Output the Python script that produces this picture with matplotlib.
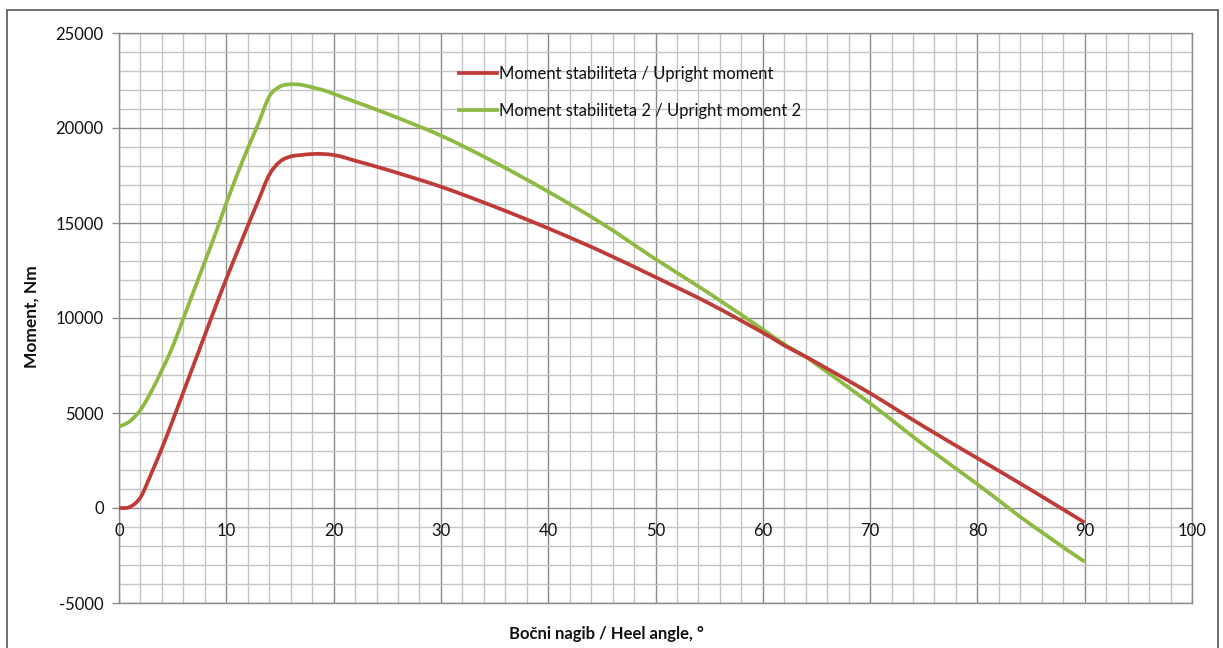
import matplotlib
matplotlib.use("Agg")
import matplotlib.pyplot as plt
from matplotlib.ticker import MultipleLocator
from matplotlib.patches import Rectangle, PathPatch
from matplotlib.path import Path
from matplotlib.lines import Line2D

plt.rcParams['font.family'] = ['Lato', 'DejaVu Sans']
plt.rcParams['axes.unicode_minus'] = False

# ---- data ----
angle_red = [0, 1, 2, 3, 4, 5, 6, 7, 8, 9, 10, 11, 12, 13, 14, 15, 16, 17, 18, 19, 20,
             21, 22, 25, 30, 35, 40, 45, 50, 55, 60, 62, 64, 65, 70, 75, 80, 85, 90]
moment_red = [0, 50, 560, 1800, 3150, 4600, 6100, 7600, 9100, 10600, 12060, 13460, 14850,
              16200, 17530, 18230, 18500, 18580, 18630, 18630, 18580, 18450, 18280, 17800,
              16910, 15860, 14720, 13490, 12150, 10770, 9230, 8560, 7960, 7650, 6040, 4290,
              2620, 950, -770]

angle_green = [0, 1, 2, 3, 4, 5, 6, 7, 8, 9, 10, 11, 12, 13, 14, 15, 16, 17, 18, 19, 20,
               22, 25, 30, 35, 40, 45, 50, 55, 60, 62, 64, 65, 70, 75, 80, 85, 90]
moment_green = [4280, 4560, 5160, 6120, 7260, 8490, 9980, 11470, 12960, 14460, 16040, 17530,
                18930, 20250, 21650, 22180, 22300, 22270, 22140, 22000, 21800, 21380, 20750,
                19600, 18200, 16650, 14980, 13100, 11300, 9400, 8620, 7960, 7560, 5510, 3320,
                1250, -880, -2830]

label_red = "Moment stabiliteta / Upright moment"
label_green = "Moment stabiliteta 2 / Upright moment 2"
x_label = "Bočni nagib / Heel angle, °"
y_label = "Moment, Nm"
x_ticks = [0, 10, 20, 30, 40, 50, 60, 70, 80, 90, 100]

RED = '#BE3B37'
GREEN = '#8DBA42'
LW = 2.7


def smooth_path(xs, ys):
    """Excel-style smoothed line: cubic Bezier segments through the data points."""
    n = len(xs)
    verts = [(xs[0], ys[0])]
    codes = [Path.MOVETO]
    for i in range(n - 1):
        x0, y0 = (xs[i - 1], ys[i - 1]) if i > 0 else (xs[i], ys[i])
        x1, y1 = xs[i], ys[i]
        x2, y2 = xs[i + 1], ys[i + 1]
        x3, y3 = (xs[i + 2], ys[i + 2]) if i + 2 < n else (xs[i + 1], ys[i + 1])
        c1 = (x1 + (x2 - x0) / 6.0, y1 + (y2 - y0) / 6.0)
        c2 = (x2 - (x3 - x1) / 6.0, y2 - (y3 - y1) / 6.0)
        verts += [c1, c2, (x2, y2)]
        codes += [Path.CURVE4] * 3
    return Path(verts, codes)


W, H = 1223, 648
fig = plt.figure(figsize=(W / 100, H / 100), dpi=100)
ax = fig.add_axes([119 / W, 1 - 603 / H, (1192 - 119) / W, (603 - 33) / H])

ax.add_patch(PathPatch(smooth_path(angle_red, moment_red), facecolor='none',
                       edgecolor=RED, lw=LW, capstyle='butt', zorder=5))
ax.add_patch(PathPatch(smooth_path(angle_green, moment_green), facecolor='none',
                       edgecolor=GREEN, lw=LW, capstyle='butt', zorder=4))

ax.set_xlim(0, 100)
ax.set_ylim(-5000, 25000)
ax.set_xticks(x_ticks)
ax.xaxis.set_minor_locator(MultipleLocator(2))
ax.yaxis.set_major_locator(MultipleLocator(5000))
ax.yaxis.set_minor_locator(MultipleLocator(1000))

ax.grid(which='major', color='#8a8a8a', lw=1.0, zorder=1)
ax.grid(which='minor', color='#c4c4c4', lw=1.0, zorder=0)
ax.set_axisbelow(True)

for s in ['top', 'right', 'bottom', 'left']:
    ax.spines[s].set_color('#8a8a8a')
    ax.spines[s].set_linewidth(1.0)

ax.tick_params(axis='y', which='major', length=5, width=1, color='#8a8a8a',
               labelsize=12, pad=6, labelcolor='#111111')
ax.tick_params(axis='y', which='minor', length=0)
ax.tick_params(axis='x', which='both', length=0)

# x tick labels just below the zero line (axis crosses at 0)
ax.set_xticklabels([])
for v in x_ticks:
    ax.text(v, -1200, str(v), ha='center', va='center', fontsize=12, color='#111111',
            zorder=6)

fig.text(32 / W, 1 - 317 / H, y_label, rotation=90, ha='center', va='center',
         fontsize=12.5, fontweight='bold', color='#111111')
fig.text(606 / W, 1 - 634 / H, x_label, ha='center', va='center',
         fontsize=12, fontweight='bold', color='#111111')

handles = [Line2D([], [], color=RED, lw=LW), Line2D([], [], color=GREEN, lw=LW)]
leg = ax.legend(handles, [label_red, label_green], loc='upper left',
                bbox_to_anchor=((459 - 119) / 1073, 1 - (66 - 33) / 570),
                frameon=False, fontsize=12, handlelength=2.3, handletextpad=0.1,
                labelspacing=1.25, borderpad=0, borderaxespad=0)
for t in leg.get_texts():
    t.set_color('#111111')

fig.patches.append(Rectangle((7 / W, -0.05), (1218 - 7) / W, 1 - 10 / H + 0.05,
                             transform=fig.transFigure, fill=False,
                             edgecolor='#555555', lw=1.2))

fig.savefig('out.png', dpi=100, facecolor='white')
